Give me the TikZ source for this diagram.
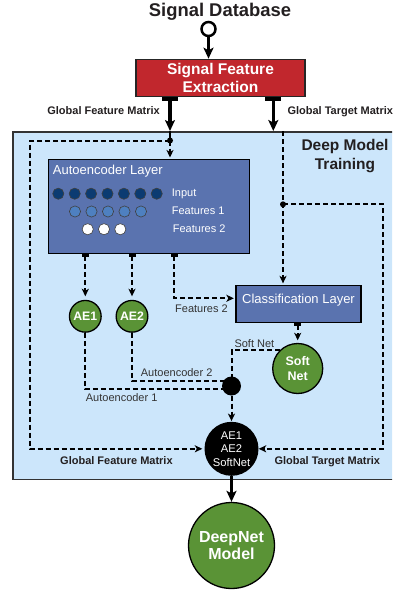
\documentclass[tikz,border=0pt]{standalone}
\usepackage{fontspec}
\setmainfont{Liberation Sans}
\usetikzlibrary{arrows.meta,calc}
\definecolor{sfred}{HTML}{C1272D}
\definecolor{bgblue}{HTML}{CCE6FB}
\definecolor{aeblue}{HTML}{5A73AF}
\definecolor{navyc}{HTML}{0B3B72}
\definecolor{midc}{HTML}{4E80C0}
\definecolor{leaf}{HTML}{5A9336}
\definecolor{darktxt}{HTML}{333333}
\definecolor{inktxt}{HTML}{231F20}
\newcommand{\fsz}[2]{\fontsize{#1}{#2}\selectfont}
\begin{document}
\begin{tikzpicture}[x=1pt,y=-1pt,
  bigarrow/.style={line width=3.2pt,-{Stealth[length=11pt,width=10pt,inset=2.5pt]}},
  tbararrow/.style={line width=3.2pt,{Rectangle[length=3.5pt,width=16pt]}-{Stealth[length=11pt,width=10pt,inset=2.5pt]}},
  dline/.style={line width=2pt,dash pattern=on 5pt off 3pt},
  darrow/.style={dline,shorten >=1.5pt,-{Stealth[length=7.5pt,width=7pt,inset=2pt]}},
  tdarrow/.style={dline,shorten >=1.5pt,{Rectangle[length=2.8pt,width=7pt]}-{Stealth[length=7.5pt,width=7pt,inset=2pt]}},
  boldlabel/.style={font=\bfseries\fsz{11}{13}, text=inktxt, inner sep=0},
  plainlabel/.style={font=\fsz{11}{13}, text=darktxt, inner sep=0},
  whitelabel/.style={font=\fsz{11}{13}, text=white, inner sep=0},
  greencirc/.style={circle, draw=black, line width=1.3pt, fill=leaf, text=white, inner sep=0, align=center},
  unit/.style={circle, draw=black!75, line width=0.6pt, minimum size=11.2pt, inner sep=0},
  layerbox/.style={draw=black, line width=1.3pt, fill=aeblue, inner sep=0},
  junction/.style={circle, fill=black, inner sep=0},
]
\useasboundingbox (0,0) rectangle (392,592);
\clip (0,0) rectangle (392,592);

% training area
\node[draw=black!80, line width=1.5pt, fill=bgblue, minimum width=390pt, minimum height=347.5pt, inner sep=0, anchor=north west] (train) at (12,131) {};
\node[font=\bfseries\fsz{15.5}{19.5}, text=inktxt, align=center, inner sep=0] (dmt) at (345,156) {Deep Model\\Training};

% top
\node[font=\bfseries\fsz{18.4}{20}, text=inktxt, anchor=base, inner sep=0] (db) at (220,16) {Signal Database};
\node[circle, draw=black, line width=2.5pt, minimum size=14pt, inner sep=0] (src) at (208.5,29) {};
\node[draw=black!85, line width=1.2pt, fill=sfred, minimum width=169pt, minimum height=37.4pt, inner sep=0, text=white, font=\bfseries\fsz{15.5}{17.5}, align=center] (sfe) at (220.5,78) {Signal Feature\\Extraction};
\node[boldlabel, anchor=base east] (gfm1) at (160,114) {Global Feature Matrix};
\node[boldlabel, anchor=base west] (gtm1) at (287.3,114) {Global Target Matrix};

\coordinate (gx) at (170,0);
\coordinate (tx) at (273.3,0);
\coordinate (dx) at (283,131);

% junctions
\node[junction, minimum size=6pt] (j1) at (170,140.5) {};
\node[junction, minimum size=6pt] (j2) at (283,204.3) {};
\coordinate (lc1) at (30,140.5);
\coordinate (rc1) at (383.3,204.3);

% autoencoder layer
\node[layerbox, minimum width=201pt, minimum height=94pt, anchor=north west] (ael) at (48,159) {};
\node[whitelabel, font=\fsz{13}{15}, anchor=base west] (aet) at (52.7,174) {Autoencoder Layer};
\foreach \i in {0,...,6} \node[unit, fill=navyc] (in\i) at (58.3+16.4*\i,193.7) {};
\foreach \i in {0,...,4} \node[unit, fill=midc] (fa\i) at (75+16.5*\i,211.5) {};
\foreach \i in {0,...,2} \node[unit, fill=white] (fb\i) at (87.7+16.3*\i,229.2) {};
\node[whitelabel, anchor=base west] (linp) at (171.7,196.5) {Input};
\node[whitelabel, anchor=base west] (lf1) at (171.7,214.7) {Features 1};
\node[whitelabel, anchor=base west] (lf2) at (172.7,232.7) {Features 2};

% AE nodes
\node[greencirc, minimum size=31.7pt, font=\bfseries\fsz{12.3}{14}] (ae1) at (85.3,316.3) {AE1};
\node[greencirc, minimum size=31.7pt, font=\bfseries\fsz{12.3}{14}] (ae2) at (132,316.3) {AE2};

% classification
\node[layerbox, minimum width=125pt, minimum height=37pt, text=white, font=\fsz{13}{15}, text height=9.3pt, text depth=10.7pt] (cls) at (298.5,304.2) {Classification Layer};
\coordinate (f2c) at (174.3,298.3);
\node[plainlabel, anchor=base west] (lf2b) at (175,312.7) {Features 2};

% soft net
\node[greencirc, minimum size=50pt, font=\bfseries\fsz{12.5}{15}] (soft) at (297.7,368.5) {Soft\\Net};
\node[plainlabel, anchor=base west] (lsn) at (234.3,347) {Soft Net};

% merge
\node[junction, minimum size=19pt] (jn) at (231.5,386) {};
\coordinate (a1c) at (85.3,389.3);
\coordinate (a2c) at (132,381);
\node[plainlabel, anchor=base west] (la2) at (140.7,376.7) {Autoencoder 2};
\node[plainlabel, anchor=base west] (la1) at (85.7,401.7) {Autoencoder 1};

\node[circle, fill=black, minimum size=54pt, inner sep=0, text=white, font=\fsz{11.2}{13.4}, align=center] (fin) at (231.5,448.8) {AE1\\AE2\\SoftNet};
\node[boldlabel, anchor=base west] (gfm2) at (60,464.3) {Global Feature Matrix};
\node[boldlabel, anchor=base west] (gtm2) at (274.3,464.3) {Global Target Matrix};

\node[greencirc, minimum size=86pt, font=\bfseries\fsz{16}{17.3}] (dn) at (231.5,545.5) {DeepNet\\Model};

% connectors
\draw[bigarrow] (src.south) -- (src.south |- sfe.north);
\draw[tbararrow] (sfe.south -| gx) -- (train.north -| gx);
\draw[tbararrow] (sfe.south -| tx) -- (train.north -| tx);
\draw[line width=1.5pt] (train.north -| gx) -- (j1.center);
\draw[darrow] (j1.center) -- (j1 |- ael.north);
\draw[darrow, shorten >=2pt] (j1.center) -- (lc1) |- (fin.west);
\draw[darrow, shorten >=1.7pt] (dx) -- (dx |- cls.north);
\draw[darrow, shorten >=0pt] (j2.center) -- (rc1) |- (fin.east);

\draw[tdarrow, shorten >=3.5pt] (ae1 |- ael.south) -- (ae1.north);
\draw[tdarrow, shorten >=3.5pt] (ae2 |- ael.south) -- (ae2.north);
\draw[tdarrow] (f2c |- ael.south) -- (f2c) -- (f2c -| cls.west);
\draw[tdarrow, shorten >=2.5pt] (soft |- cls.south) -- (soft.north);

\draw[dline] (soft.135) -- (soft.135 -| jn) -- (jn.center);
\draw[dline] (ae1.south) -- (a1c) -- (a1c -| jn);
\draw[dline] (ae2.south) -- (a2c) -- (a2c -| jn);
\draw[darrow, shorten >=0.5pt] (jn.south) -- (fin.north);
\draw[bigarrow] (fin.south) -- (dn.north);
\end{tikzpicture}
\end{document}
